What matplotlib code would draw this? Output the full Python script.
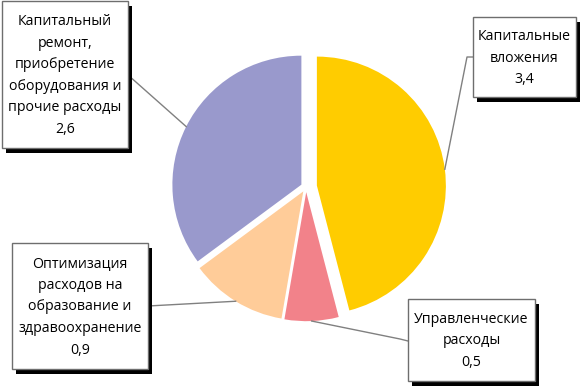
import numpy as np
import matplotlib
matplotlib.use("Agg")
import matplotlib.pyplot as plt
from matplotlib.patches import Rectangle

# данные
labels = ["Капитальные\nвложения", "Управленческие\nрасходы",
          "Оптимизация\nрасходов на\nобразование и\nздравоохранение",
          "Капитальный\nремонт,\nприобретение\nоборудования и\nпрочие расходы"]
values = [3.4, 0.5, 0.9, 2.6]
colors = ["#FFCC00", "#F2828A", "#FFCC99", "#9999CC"]
explode = [0.085, 0.04, 0.04, 0.04]

W, H = 581, 386
cx, cy, R = 306, 187, 129  # центр и радиус круга в пикселях


def px(x, y):
    # пиксели (от левого верхнего угла) -> координаты осей
    return (x - cx) / R, (cy - y) / R


fig = plt.figure(figsize=(W / 100, H / 100), dpi=100)
ax = fig.add_axes([0, 0, 1, 1])
wedges, _ = ax.pie(values, colors=colors, explode=explode, startangle=90,
                   counterclock=False, radius=1,
                   wedgeprops=dict(linewidth=0))
ax.set_xlim(-cx / R, (W - cx) / R)
ax.set_ylim(-(H - cy) / R, cy / R)
ax.set_aspect("auto")
ax.axis("off")

# рамки подписей: левый, верхний, правый, нижний край (пиксели)
boxes = [(473, 17, 576, 97), (408, 299, 535, 381),
         (12, 243, 148, 369), (2, 1, 128, 148)]
# точки, через которые идут выноски к рамкам
leader_paths = [[(467, 57), (473, 57)],
                [(400, 339), (408, 341)],
                [(148, 306)],
                [(128, 75)]]

for w, lab, val, (x0, y0, x1, y1), path in zip(wedges, labels, values, boxes, leader_paths):
    # точка на краю сектора
    mid = np.deg2rad((w.theta1 + w.theta2) / 2)
    ax0 = w.center[0] + w.r * np.cos(mid)
    ay0 = w.center[1] + w.r * np.sin(mid)
    pts = [(ax0, ay0)] + [px(*p) for p in path]
    xs, ys = zip(*pts)
    ax.plot(xs, ys, color="#808080", lw=1, zorder=3)

    # тень и рамка
    bx, by = px(x0, y1)
    bw, bh = (x1 - x0) / R, (y1 - y0) / R
    ax.add_patch(Rectangle((bx + 4 / R, by - 5 / R), bw, bh, facecolor="black",
                           edgecolor="none", zorder=4))
    ax.add_patch(Rectangle((bx, by), bw, bh, facecolor="white",
                           edgecolor="#6E6E6E", lw=1, zorder=5))
    tx, ty = px((x0 + x1) / 2, (y0 + y1) / 2 + 1)
    ax.text(tx, ty, lab + "\n" + f"{val:.1f}".replace(".", ","),
            ha="center", va="center", fontsize=10.2, family="Open Sans",
            linespacing=1.6, color="black", zorder=6)

fig.savefig("out.png", dpi=100)
